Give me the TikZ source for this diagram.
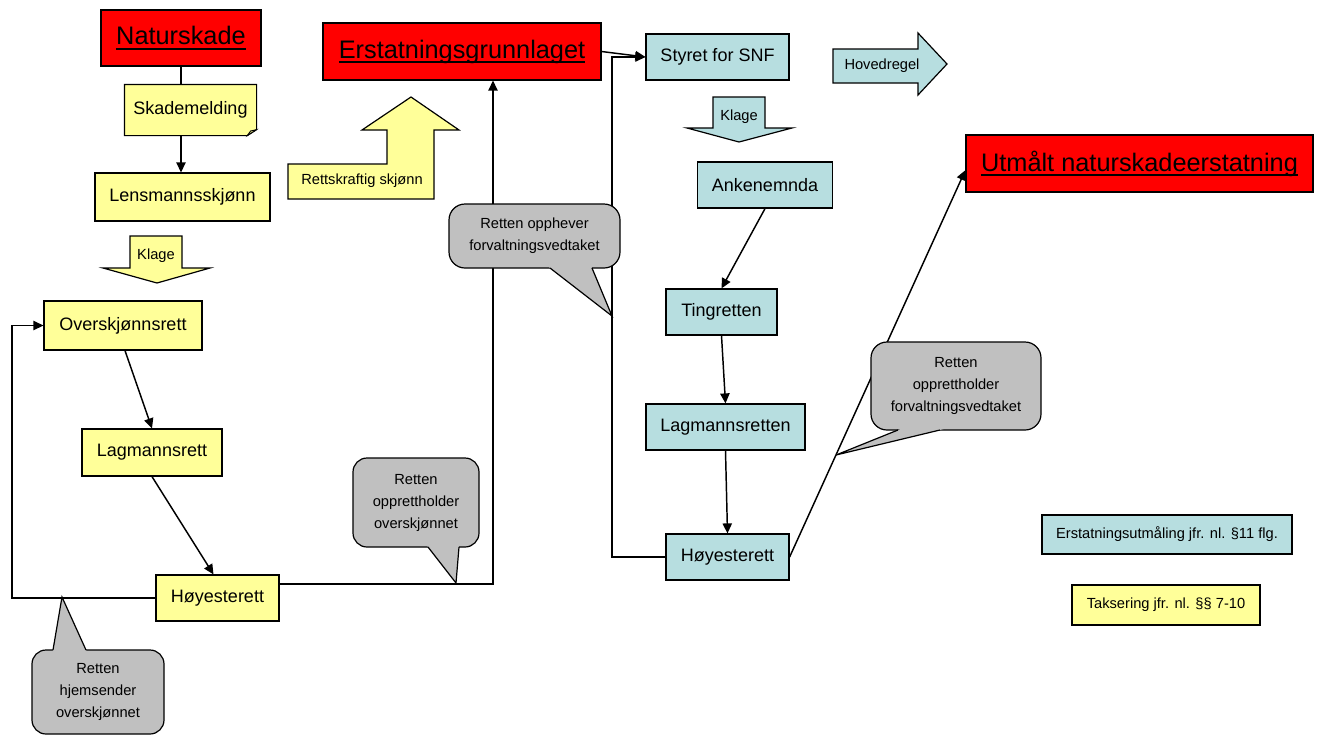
\documentclass[tikz,border=0pt]{standalone}
\usepackage{fontspec}
\setmainfont{Liberation Sans}
\usetikzlibrary{arrows.meta}
\definecolor{boxred}{HTML}{FF0000}
\definecolor{boxyellow}{HTML}{FFFF99}
\definecolor{boxblue}{HTML}{B7DEE0}
\definecolor{callgray}{HTML}{C0C0C0}
\definecolor{foldyellow}{HTML}{CCCC7A}
\newcommand\myul[1]{\setbox0\hbox{#1}\rlap{\rule[-3.6pt]{\wd0}{1.1pt}}\box0}
\begin{document}
\begin{tikzpicture}[x=0.75pt,y=-0.75pt,
  base/.style={draw=black, line width=0.9pt, inner sep=0pt, align=center, text=black},
  redbox/.style={base, fill=boxred, font=\fontsize{19}{22}\selectfont},
  ybox/.style={base, fill=boxyellow, font=\fontsize{13.5}{16}\selectfont},
  bbox/.style={base, fill=boxblue, font=\fontsize{13.5}{16}\selectfont},
  legy/.style={base, fill=boxyellow, font=\fontsize{11}{13}\selectfont},
  legb/.style={base, fill=boxblue, font=\fontsize{11}{13}\selectfont},
  small/.style={font=\fontsize{11}{16.5}\selectfont, align=center, inner sep=0pt, text=black},
  conn/.style={line width=1.1pt, draw=black},
  arr/.style={conn, -{Triangle[length=7.5pt,width=7pt]}},
  callout/.style={draw=black, line width=0.9pt, fill=callgray, rounded corners=10.5pt},
  pointerfill/.style={fill=callgray},
  pointeredge/.style={draw=black, line width=0.9pt, line join=miter},
  bigarrow/.style={draw=black, line width=0.9pt}
]
\useasboundingbox (0,0) rectangle (1322,736);

% ---------- left column ----------
\node[redbox, minimum width=120pt, minimum height=42pt] (nat) at (181,38) {\myul{Naturskade}};
\node[base, draw=none, fill=none, minimum width=98.25pt, minimum height=37.5pt] (skad) at (190.5,110) {};
\path[fill=boxyellow, draw=black, line width=0.9pt]
  (skad.north west) -- (skad.north east) -- ([yshift=4.5pt]skad.south east)
  -- ([xshift=-7pt]skad.south east) -- (skad.south west) -- cycle;
\path[fill=foldyellow, draw=black, line width=0.6pt]
  ([xshift=-7pt]skad.south east) -- ([xshift=-4.5pt,yshift=3.5pt]skad.south east) -- ([yshift=4.5pt]skad.south east) -- cycle;
\node[font=\fontsize{13.5}{16}\selectfont, inner sep=0pt] (skadtxt) at (skad.center) {Skademelding};
\node[ybox, minimum width=131.25pt, minimum height=36pt] (lens) at (182.5,197) {Lensmannsskjønn};
\node[ybox, minimum width=118.5pt, minimum height=36.75pt] (over) at (123,325.5) {Overskjønnsrett};
\node[ybox, minimum width=105pt, minimum height=35.25pt] (lagm) at (152,452.5) {Lagmannsrett};
\node[ybox, minimum width=92.25pt, minimum height=34.5pt] (hoyA) at (217.5,598) {Høyesterett};

% ---------- centre / right ----------
\node[redbox, minimum width=208.5pt, minimum height=42.75pt] (erst) at (462,51.5) {\myul{Erstatningsgrunnlaget}};
\node[bbox, minimum width=107.25pt, minimum height=34.5pt] (styret) at (717.5,57) {Styret for SNF};
\node[bbox, minimum width=101.25pt, minimum height=34.5pt] (ank) at (765,185) {Ankenemnda};
\node[bbox, minimum width=83.25pt, minimum height=34.5pt] (ting) at (721.5,312) {Tingretten};
\node[bbox, minimum width=119.25pt, minimum height=34.5pt] (lagr) at (725.5,427) {Lagmannsretten};
\node[bbox, minimum width=92.25pt, minimum height=34.5pt] (hoyB) at (727.5,557) {Høyesterett};
\node[redbox, minimum width=260.25pt, minimum height=42.75pt] (utm) at (1139.5,163.5) {\myul{Utmålt naturskadeerstatning}};
\node[legb, minimum width=187.5pt, minimum height=29.25pt] (legA) at (1167,534.5) {Erstatningsutmåling jfr. nl. §11 flg.};
\node[legy, minimum width=141pt, minimum height=30pt] (legB) at (1166,605) {Taksering jfr. nl. §§ 7-10};

% ---------- block arrows ----------
\draw[bigarrow, fill=boxyellow] (130,236) -- (182,236) -- (182,268) -- (210,268) -- (157,283) -- (103,268) -- (130,268) -- cycle;
\node[small] (klageA) at (156,256) {Klage};
\draw[bigarrow, fill=boxblue] (713,97) -- (765,97) -- (765,128) -- (792,128) -- (739,142) -- (687,128) -- (713,128) -- cycle;
\node[small] (klageB) at (739,117) {Klage};
\draw[bigarrow, fill=boxyellow] (288,164) -- (387,164) -- (387,130) -- (362,130) -- (411,97) -- (459,130) -- (434,130) -- (434,199) -- (288,199) -- cycle;
\node[small] (rettskr) at (362,181) {Rettskraftig skjønn};
\draw[bigarrow, fill=boxblue] (833,49) -- (918,49) -- (918,33) -- (947,64) -- (918,95) -- (918,83) -- (833,83) -- cycle;
\node[small] (hoved) at (882,66) {Hovedregel};

% ---------- connectors ----------
\coordinate (lx) at (12,0);
\coordinate (ex) at (493,0);
\coordinate (rx) at (612,0);
\draw[conn] (nat.south) -- (nat.south |- skad.north);
\draw[arr] (nat.south |- skad.south) -- (nat.south |- lens.north);
\draw[arr] ([xshift=1.5pt]over.south) -- (lagm.north);
\draw[arr] (lagm.south) -- ([xshift=-3pt]hoyA.north);
\draw[arr] (hoyA.west) -- (hoyA.west -| lx) |- (over.west);
\draw[arr] ([yshift=10.5pt]hoyA.east) -| (ex |- erst.south);
\draw[arr] (erst.east) -- (styret.west);
\draw[arr] (hoyB.west) -- (hoyB.west -| rx) |- (styret.west);
\draw[arr] (ank.south) -- (ting.north);
\draw[arr] (ting.south) -- (lagr.north);
\draw[arr] (lagr.south) -- (hoyB.north);
\draw[arr] (hoyB.east) -- ([yshift=-5pt]utm.west);

% ---------- callouts ----------
% A: Retten opprettholder overskjonnet
\draw[callout] (353,458) rectangle (479,547);
\fill[pointerfill] (459.2,543) -- (456,583) -- (425,543) -- cycle;
\draw[pointeredge] (459,547) -- (456,583) -- (428,547);
\node[small] (cA) at (416,502.5) {Retten\\opprettholder\\overskjønnet};

% B: Retten hjemsender overskjonnet
\draw[callout] (32,650) rectangle (164,734);
\fill[pointerfill] (87.8,654) -- (62,597) -- (52.3,654) -- cycle;
\draw[pointeredge] (86,650) -- (62,597) -- (53,650);
\node[small] (cB) at (98,692) {Retten\\hjemsender\\overskjønnet};

% C: Retten opphever forvaltningsvedtaket
\draw[callout, rounded corners=12pt] (449,204) rectangle (620,268);
\fill[pointerfill] (590.3,264) -- (612,316) -- (545,264) -- cycle;
\draw[pointeredge] (592,268) -- (612,316) -- (550,268);
\node[small] (cC) at (534.5,236) {Retten opphever\\forvaltningsvedtaket};

% D: Retten opprettholder forvaltningsvedtaket
\draw[callout, rounded corners=12pt] (871,342) rectangle (1041,430);
\fill[pointerfill] (956,426) -- (836,455) -- (908,426) -- cycle;
\draw[pointeredge] (940,430) -- (836,455) -- (898,430);
\node[small] (cD) at (956,386) {Retten\\opprettholder\\forvaltningsvedtaket};
\end{tikzpicture}
\end{document}
